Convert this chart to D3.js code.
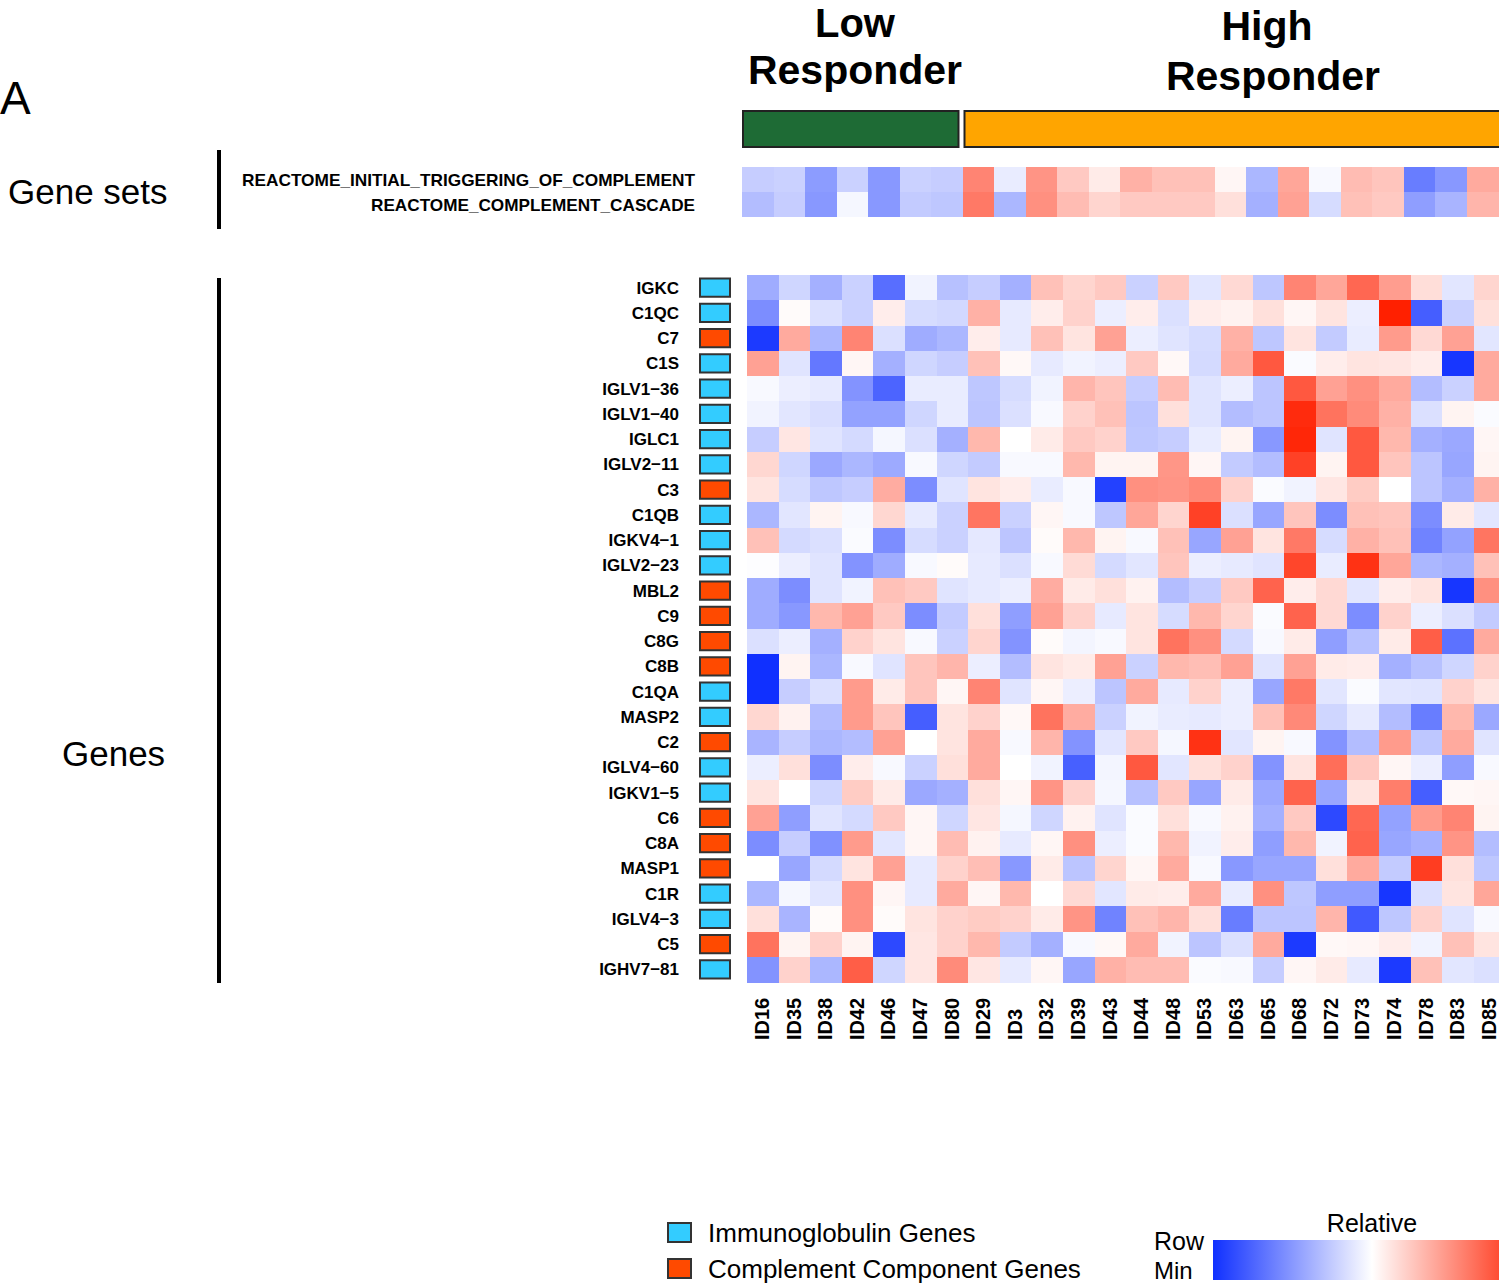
<!DOCTYPE html>
<html>
<head>
<meta charset="utf-8">
<script src="https://cdn.jsdelivr.net/npm/d3@7"></script>
<style>
body { margin: 0; background: #fff; }
text { font-family: "Liberation Sans", Arial, Helvetica, sans-serif; fill: #000; }
</style>
</head>
<body>
<svg id="chart" width="1499" height="1283"></svg>
<script>
// samples and their responder group
var samples = ['ID16','ID35','ID38','ID42','ID46','ID47','ID80','ID29','ID3','ID32','ID39','ID43',
               'ID44','ID48','ID53','ID63','ID65','ID68','ID72','ID73','ID74','ID78','ID83','ID85'];
var sampleGroup = ['Low','Low','Low','Low','Low','Low','Low',
                   'High','High','High','High','High','High','High','High','High','High','High','High','High','High','High','High','High'];

var genes = ['IGKC','C1QC','C7','C1S','IGLV1\u221236','IGLV1\u221240','IGLC1','IGLV2\u221211','C3','C1QB',
             'IGKV4\u22121','IGLV2\u221223','MBL2','C9','C8G','C8B','C1QA','MASP2','C2','IGLV4\u221260',
             'IGKV1\u22125','C6','C8A','MASP1','C1R','IGLV4\u22123','C5','IGHV7\u221281'];
// 'Ig' = immunoglobulin genes, 'C' = complement component genes
var geneType = ['Ig','Ig','C','Ig','Ig','Ig','Ig','Ig','C','Ig','Ig','Ig','C','C','C','C','Ig','Ig','C','Ig','Ig','C','C','C','Ig','Ig','C','Ig'];

var geneSets = ['REACTOME_INITIAL_TRIGGERING_OF_COMPLEMENT', 'REACTOME_COMPLEMENT_CASCADE'];
var setInitial = [-0.24,-0.22,-0.48,-0.22,-0.5,-0.22,-0.24,0.55,-0.09,0.48,0.24,0.09,0.35,0.28,0.28,0.04,-0.35,0.4,-0.03,0.3,0.26,-0.63,-0.5,0.38];
var setCascade = [-0.32,-0.24,-0.5,-0.04,-0.5,-0.25,-0.27,0.6,-0.35,0.5,0.3,0.19,0.24,0.24,0.24,0.14,-0.38,0.42,-0.17,0.28,0.24,-0.47,-0.36,0.33];

// relative row expression (row min = -1, row max = +1), one array per gene
var expr = [
  [-0.4,-0.2,-0.38,-0.22,-0.7,-0.06,-0.3,-0.24,-0.38,0.28,0.19,0.24,-0.22,0.24,-0.12,0.17,-0.27,0.55,0.4,0.68,0.44,0.15,-0.12,0.19],
  [-0.55,0.02,-0.15,-0.22,0.08,-0.17,-0.19,0.35,-0.1,0.08,0.2,-0.08,0.08,-0.15,0.08,0.06,0.14,0.04,0.12,-0.08,1.0,-0.78,-0.22,0.14],
  [-0.95,0.38,-0.35,0.55,-0.15,-0.4,-0.35,0.08,-0.1,0.28,0.12,0.42,-0.08,-0.13,-0.17,0.35,-0.27,0.12,-0.25,-0.09,0.45,0.17,0.42,-0.12],
  [0.42,-0.13,-0.65,0.04,-0.38,-0.2,-0.24,0.28,0.03,-0.1,-0.06,-0.08,0.24,0.03,-0.18,0.38,0.75,-0.02,0.08,0.12,0.11,0.08,-0.97,0.38],
  [-0.03,-0.08,-0.1,-0.52,-0.75,-0.09,-0.09,-0.27,-0.17,-0.06,0.33,0.26,-0.24,0.3,-0.13,-0.08,-0.28,0.75,0.42,0.5,0.38,-0.32,-0.22,0.38],
  [-0.06,-0.12,-0.16,-0.45,-0.45,-0.2,-0.09,-0.28,-0.15,-0.03,0.2,0.28,-0.28,0.14,-0.13,-0.32,-0.28,0.95,0.63,0.52,0.35,-0.15,0.05,-0.02],
  [-0.24,0.11,-0.13,-0.18,-0.04,-0.15,-0.38,0.32,0,0.09,0.24,0.2,-0.27,-0.24,-0.09,0.05,-0.5,0.97,-0.13,0.75,0.32,-0.38,-0.42,0.04],
  [0.18,-0.2,-0.42,-0.35,-0.41,-0.03,-0.2,-0.25,-0.03,-0.03,0.32,0.05,0.05,0.47,0.04,-0.25,-0.32,0.85,0.05,0.75,0.26,-0.28,-0.43,0.05],
  [0.12,-0.17,-0.27,-0.24,0.37,-0.55,-0.13,0.12,0.08,-0.09,-0.03,-0.92,0.5,0.48,0.53,0.2,-0.02,-0.06,0.11,0.23,0,-0.28,-0.38,0.35],
  [-0.35,-0.12,0.05,-0.03,0.18,-0.1,-0.22,0.62,-0.22,0.04,-0.03,-0.27,0.4,0.19,0.85,-0.15,-0.43,0.26,-0.55,0.28,0.26,-0.55,0.09,-0.12],
  [0.28,-0.18,-0.15,-0.02,-0.55,-0.17,-0.22,-0.11,-0.28,0.02,0.32,0.05,-0.03,0.28,-0.43,0.42,0.12,0.6,-0.17,0.35,0.28,-0.6,-0.45,0.62],
  [-0.01,-0.08,-0.13,-0.52,-0.4,-0.03,0.02,-0.1,-0.15,-0.03,0.16,-0.18,-0.12,0.26,-0.08,-0.1,-0.13,0.83,-0.09,0.92,0.4,-0.35,-0.38,0.28],
  [-0.4,-0.55,-0.13,-0.06,0.28,0.24,-0.13,-0.1,-0.08,0.37,0.09,0.14,0.06,-0.32,-0.24,0.24,0.7,0.08,0.17,-0.12,0.08,0.12,-0.97,0.5],
  [-0.4,-0.5,0.32,0.42,0.24,-0.55,-0.25,0.14,-0.47,0.42,0.2,-0.1,0.12,-0.17,0.32,0.19,-0.02,0.7,0.17,-0.55,0.2,-0.08,-0.15,-0.25],
  [-0.15,-0.08,-0.38,0.2,0.12,-0.03,-0.22,0.19,-0.52,0.02,-0.05,-0.03,0.12,0.63,0.5,-0.18,-0.03,0.09,-0.47,-0.3,0.09,0.72,-0.68,0.38],
  [-1.0,0.05,-0.35,-0.03,-0.13,0.26,0.33,-0.08,-0.32,0.12,0.09,0.42,-0.22,0.32,0.29,0.42,-0.13,0.42,0.09,0.08,-0.38,-0.3,-0.2,0.2],
  [-1.0,-0.24,-0.15,0.45,0.09,0.26,0.04,0.55,-0.13,0.04,-0.08,-0.28,0.38,-0.1,0.2,-0.08,-0.43,0.6,-0.12,-0.02,-0.12,-0.13,0.2,0.12],
  [0.18,0.06,-0.32,0.45,0.26,-0.78,0.12,0.2,0.03,0.63,0.37,-0.22,-0.06,-0.09,-0.1,-0.08,0.28,0.53,-0.2,-0.1,-0.32,-0.63,0.32,-0.42],
  [-0.36,-0.24,-0.35,-0.32,0.42,0,0.12,0.38,-0.03,0.33,-0.52,-0.12,0.24,-0.04,0.92,-0.12,0.05,-0.03,-0.52,-0.32,0.45,-0.27,0.38,-0.13],
  [-0.08,0.14,-0.55,0.08,-0.03,-0.22,0.14,0.38,0,-0.06,-0.77,-0.05,0.75,-0.12,0.14,0.2,-0.52,0.12,0.65,0.24,0.04,-0.08,-0.47,-0.03],
  [0.12,0,-0.2,0.23,0.09,-0.42,-0.38,0.14,0.04,0.48,0.2,-0.04,-0.3,0.24,-0.43,0.09,-0.42,0.7,-0.43,0.12,0.58,-0.78,0.03,0.04],
  [0.42,-0.47,-0.13,-0.18,0.24,0.04,-0.2,0.11,-0.04,-0.2,0.06,-0.13,-0.02,0.14,-0.03,0.06,-0.38,0.24,-0.88,0.68,-0.45,0.45,0.55,0.05],
  [-0.55,-0.24,-0.53,0.45,-0.12,0.04,0.3,0.06,-0.1,0.04,0.5,-0.08,-0.02,0.32,-0.06,0.08,-0.47,0.32,-0.06,0.7,-0.43,-0.38,0.48,-0.32],
  [0,-0.43,-0.18,0.12,0.42,-0.1,0.2,0.29,-0.5,0.09,-0.28,0.19,0.04,0.38,-0.03,-0.5,-0.43,-0.43,0.14,0.38,-0.25,0.87,0.14,-0.27],
  [-0.35,-0.04,-0.12,0.5,0.04,-0.1,0.38,0.04,0.32,0,0.17,-0.12,0.09,0.08,0.38,-0.09,0.5,-0.27,-0.47,-0.47,-0.97,-0.15,0.12,0.4],
  [0.14,-0.36,0.02,0.5,0.02,0.12,0.2,0.23,0.2,0.09,0.48,-0.6,0.28,0.33,0.14,-0.63,-0.28,-0.28,0.33,-0.8,-0.27,0.2,-0.13,-0.03],
  [0.63,0.05,0.2,0.05,-0.88,0.11,0.2,0.32,-0.25,-0.38,-0.03,0.03,0.38,-0.06,-0.28,-0.15,0.38,-0.95,0.03,0.04,0.08,-0.06,0.28,0.12],
  [-0.52,0.2,-0.35,0.72,-0.2,0.11,0.52,0.11,-0.1,0.04,-0.43,0.35,0.3,0.3,-0.02,-0.03,-0.24,0.04,0.09,-0.1,-0.95,0.28,-0.12,-0.15]
];

var typeColor = { Ig: '#33ccff', C: '#ff4a00' };
var groupColor = { Low: '#1e6b35', High: '#ffa500' };

var svg = d3.select('#chart');

var color = d3.scaleLinear()
    .domain([-1, 0, 1])
    .range(['#1030ff', '#ffffff', '#ff2000'])
    .clamp(true);

// main heatmap scales
var x = d3.scaleBand().domain(samples).range([747, 747 + 24 * 31.6]);
var y = d3.scaleBand().domain(genes).range([275, 275 + 28 * 25.25]);
// gene set block sits a few pixels to the left
var xs = d3.scaleBand().domain(samples).range([742, 742 + 24 * 31.5]);
var ys = d3.scaleBand().domain(geneSets).range([167, 216]);

// panel letter and section titles
svg.append('text').attr('x', 0).attr('y', 114).attr('font-size', 46).text('A');
svg.append('text').attr('x', 8).attr('y', 204).attr('font-size', 35).text('Gene sets');
svg.append('text').attr('x', 62).attr('y', 766).attr('font-size', 35).text('Genes');

svg.append('rect').attr('x', 217).attr('y', 150).attr('width', 4).attr('height', 79).attr('fill', '#000');
svg.append('rect').attr('x', 217).attr('y', 278).attr('width', 4).attr('height', 705).attr('fill', '#000');

// responder group bar
var groups = ['Low', 'High'];
var groupSpan = groups.map(function(g) {
  var ids = samples.filter(function(s, i) { return sampleGroup[i] == g; });
  return { g: g, x0: xs(ids[0]), x1: xs(ids[ids.length - 1]) + xs.bandwidth() };
});
svg.selectAll('.grp')
    .data(groupSpan)
  .enter().append('rect')
    .attr('class', 'grp')
    .attr('x', function(d, i) { return d.x0 + (i == 0 ? 1 : 2); })
    .attr('y', 111)
    .attr('width', function(d, i) { return d.x1 - d.x0 - (i == 0 ? 5 : 0); })
    .attr('height', 36)
    .attr('fill', function(d) { return groupColor[d.g]; })
    .attr('stroke', '#222')
    .attr('stroke-width', 2);

var titles = [
  { t: 'Low', x: 855, y: 37, s: 40 }, { t: 'Responder', x: 855, y: 84, s: 41 },
  { t: 'High', x: 1267, y: 40, s: 41 }, { t: 'Responder', x: 1273, y: 90, s: 41 }
];
svg.selectAll('.ttl')
    .data(titles)
  .enter().append('text')
    .attr('class', 'ttl')
    .attr('x', function(d) { return d.x; })
    .attr('y', function(d) { return d.y; })
    .attr('text-anchor', 'middle')
    .attr('font-size', function(d) { return d.s; })
    .attr('font-weight', 'bold')
    .text(function(d) { return d.t; });

// gene set rows
var setRows = [setInitial, setCascade];
var setCells = [];
setRows.forEach(function(row, r) {
  row.forEach(function(v, c) { setCells.push({ set: geneSets[r], id: samples[c], v: v }); });
});
svg.append('g').selectAll('rect')
    .data(setCells)
  .enter().append('rect')
    .attr('x', function(d) { return xs(d.id); })
    .attr('y', function(d) { return ys(d.set); })
    .attr('width', xs.bandwidth() + 0.5)
    .attr('height', ys.bandwidth() + 0.5)
    .attr('fill', function(d) { return color(d.v); })
    .attr('shape-rendering', 'crispEdges');

var setLabelLen = [453, 324];
svg.selectAll('.setlab')
    .data(geneSets)
  .enter().append('text')
    .attr('class', 'setlab')
    .attr('x', function(d, i) { return 695 - setLabelLen[i]; })
    .attr('y', function(d) { return ys(d) + ys.bandwidth() / 2 + 7; })
    .attr('font-size', 17)
    .attr('font-weight', 'bold')
    .attr('textLength', function(d, i) { return setLabelLen[i]; })
    .attr('lengthAdjust', 'spacingAndGlyphs')
    .text(function(d) { return d; });

// main heatmap
var cells = [];
expr.forEach(function(row, r) {
  row.forEach(function(v, c) { cells.push({ gene: genes[r], id: samples[c], v: v }); });
});
svg.append('g').selectAll('rect')
    .data(cells)
  .enter().append('rect')
    .attr('x', function(d) { return x(d.id); })
    .attr('y', function(d) { return y(d.gene); })
    .attr('width', x.bandwidth() + 0.5)
    .attr('height', y.bandwidth() + 0.5)
    .attr('fill', function(d) { return color(d.v); })
    .attr('shape-rendering', 'crispEdges');

// gene labels and gene type boxes
svg.selectAll('.glab')
    .data(genes)
  .enter().append('text')
    .attr('class', 'glab')
    .attr('x', 679)
    .attr('y', function(d) { return y(d) + y.bandwidth() / 2; })
    .attr('dy', '0.36em')
    .attr('text-anchor', 'end')
    .attr('font-size', 17)
    .attr('font-weight', 'bold')
    .text(function(d) { return d; });

svg.selectAll('.gbox')
    .data(genes)
  .enter().append('rect')
    .attr('class', 'gbox')
    .attr('x', 700)
    .attr('y', function(d) { return y(d) + 3.5; })
    .attr('width', 30)
    .attr('height', y.bandwidth() - 7)
    .attr('fill', function(d, i) { return typeColor[geneType[i]]; })
    .attr('stroke', '#333')
    .attr('stroke-width', 2);

// sample labels, rotated, reading upward
svg.selectAll('.slab')
    .data(samples)
  .enter().append('text')
    .attr('class', 'slab')
    .attr('transform', function(d) { return `translate(${x(d) + x.bandwidth() / 2 - 1}, 1040) rotate(-90)`; })
    .attr('dy', '0.36em')
    .attr('font-size', 20)
    .attr('font-weight', 'bold')
    .text(function(d) { return d; });

// legend: gene types
var legendTypes = [
  { k: 'Ig', label: 'Immunoglobulin Genes', y: 1223 },
  { k: 'C', label: 'Complement Component Genes', y: 1259 }
];
var lg = svg.selectAll('.leg')
    .data(legendTypes)
  .enter().append('g')
    .attr('class', 'leg')
    .attr('transform', function(d) { return `translate(668, ${d.y})`; });
lg.append('rect')
    .attr('width', 23)
    .attr('height', 19)
    .attr('fill', function(d) { return typeColor[d.k]; })
    .attr('stroke', '#333')
    .attr('stroke-width', 2);
lg.append('text')
    .attr('x', 40)
    .attr('y', 19)
    .attr('font-size', 26)
    .text(function(d) { return d.label; });

// legend: colour bar
var grad = svg.append('defs').append('linearGradient').attr('id', 'relgrad');
[-1, -0.5, 0, 0.5, 1].forEach(function(v) {
  grad.append('stop').attr('offset', ((v + 1) / 2 * 100) + '%').attr('stop-color', color(v));
});
svg.append('rect')
    .attr('x', 1213).attr('y', 1240)
    .attr('width', 318).attr('height', 40)
    .attr('fill', 'url(#relgrad)');
svg.append('text').attr('x', 1372).attr('y', 1232).attr('text-anchor', 'middle').attr('font-size', 25).text('Relative');
svg.append('text').attr('x', 1154).attr('y', 1250).attr('font-size', 25).text('Row');
svg.append('text').attr('x', 1154).attr('y', 1279).attr('font-size', 24).text('Min');
</script>
</body>
</html>
